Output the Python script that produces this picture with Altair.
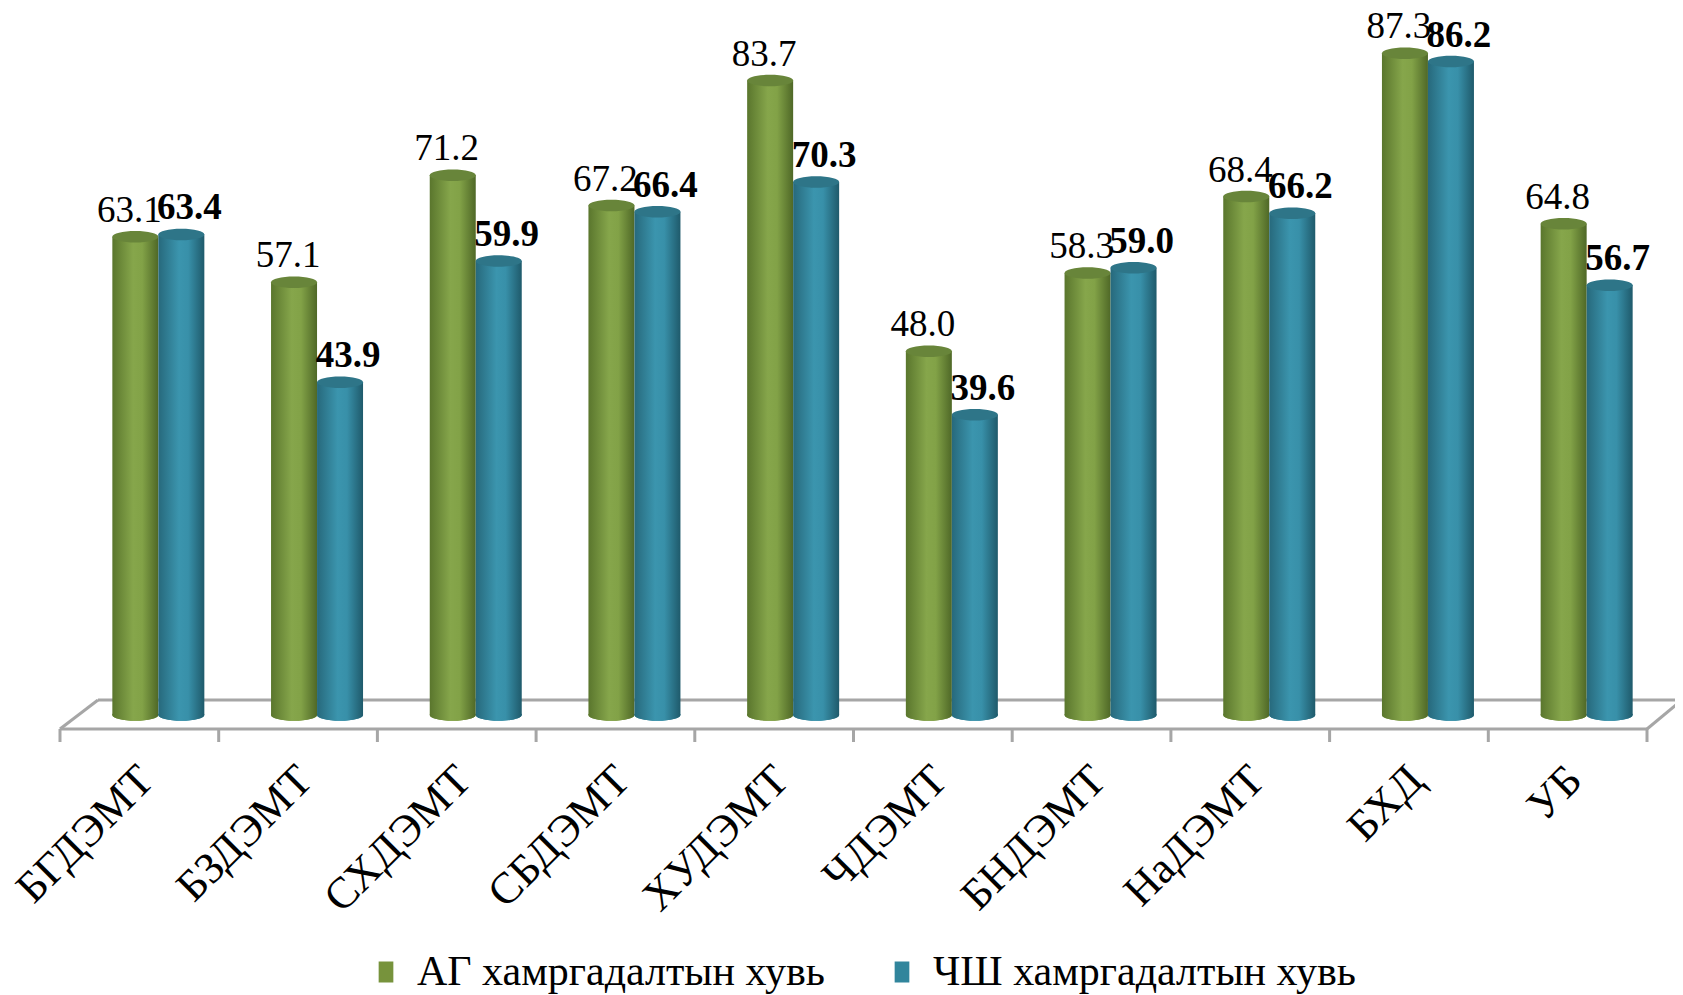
import altair as alt
import pandas as pd

categories = ["БГДЭМТ", "БЗДЭМТ", "СХДЭМТ", "СБДЭМТ", "ХУДЭМТ",
              "ЧДЭМТ", "БНДЭМТ", "НаДЭМТ", "БХД", "УБ"]
ag_values = [63.1, 57.1, 71.2, 67.2, 83.7, 48.0, 58.3, 68.4, 87.3, 64.8]
chsh_values = [63.4, 43.9, 59.9, 66.4, 70.3, 39.6, 59.0, 66.2, 86.2, 56.7]
series_names = ["АГ хамргадалтын хувь", "ЧШ хамргадалтын хувь"]
series_colors = ["#77933C", "#31859C"]

rows = []
for c, a, b in zip(categories, ag_values, chsh_values):
    rows.append({"cat": c, "series": series_names[0], "value": a, "label": f"{a:.1f}"})
    rows.append({"cat": c, "series": series_names[1], "value": b, "label": f"{b:.1f}"})
df = pd.DataFrame(rows)

FONT = "Liberation Serif"
W, H = 1667, 707
BAR_W = 46
STEP = 158.7
ELL = "M-1,0C-1,-0.138,-0.552,-0.25,0,-0.25C0.552,-0.25,1,-0.138,1,0C1,0.138,0.552,0.25,0,0.25C-0.552,0.25,-1,0.138,-1,0Z"

xs = alt.Scale(domain=categories, paddingInner=0, paddingOuter=0.252, align=0.65)
ys = alt.Scale(domain=[0, 93.27], nice=False, zero=True)
X = alt.X("cat:N", scale=xs, axis=None)
Y = alt.Y("value:Q", scale=ys, axis=None)
Y0 = alt.Y("zero:Q", scale=ys, axis=None)
COLOR = alt.Color("series:N",
                  scale=alt.Scale(domain=series_names, range=series_colors),
                  legend=alt.Legend(
                      orient="none", legendX=357, legendY=943, direction="horizontal",
                      title=None, symbolType="M-0.7,-1H0.7V1H-0.7Z", symbolSize=441,
                      symbolStrokeWidth=0, padding=0,
                      labelFont=FONT, labelFontSize=42, labelColor="black",
                      labelOffset=10, columnPadding=56, labelLimit=800))


def grad(c0, c1, c2, c3):
    return {"gradient": "linear", "x1": 0, "x2": 1, "y1": 0, "y2": 0,
            "stops": [{"offset": 0, "color": c0},
                      {"offset": 0.45, "color": c1},
                      {"offset": 0.65, "color": c2},
                      {"offset": 1, "color": c3}]}


styles = [
    (series_names[0], grad("#5a762d", "#86a64b", "#82a247", "#4f6827"), "#68853a", -4, -10, "normal"),
    (series_names[1], grad("#27697c", "#3b95ae", "#3890a9", "#1f5a6b"), "#2e7588", 42, 50, "bold"),
]

base = alt.Chart(df).transform_calculate(zero="0")
GRAY = "#a6a6a6"
first = base.transform_filter(f"datum.series == '{series_names[0]}'")

floor = [
    first.transform_filter(f"datum.cat == '{categories[0]}'").mark_rule(
        color=GRAY, strokeWidth=3).encode(
        x=alt.value(x1), x2=alt.value(x2), y=alt.value(y1), y2=alt.value(y2))
    for (x1, y1, x2, y2) in [(52, 721, 1639, 721), (90, 692, 1674, 692),
                             (52, 721, 90, 692), (1639, 721, 1674, 692)]
]

ticks = first.mark_rule(color=GRAY, strokeWidth=3, xOffset=-STEP / 2).encode(
    x=X, y=alt.value(721), y2=alt.value(734))
last_tick = first.transform_filter(f"datum.cat == '{categories[-1]}'").mark_rule(
    color=GRAY, strokeWidth=3, xOffset=STEP / 2).encode(
    x=X, y=alt.value(721), y2=alt.value(734))

xlabels = first.mark_text(
    angle=315, align="right", baseline="top", font=FONT, fontSize=44, color="black",
    xOffset=-8).encode(x=X, y=alt.value(750), text="cat:N")

layers = floor + [ticks, last_tick, xlabels]

for name, g, topc, off, ldx, weight in styles:
    d = base.transform_filter(f"datum.series == '{name}'")
    layers.append(d.mark_point(shape=ELL, size=BAR_W ** 2, filled=True, opacity=1,
                               strokeWidth=0, xOffset=off).encode(
        x=X, y=Y0, color=COLOR))
    layers.append(d.mark_point(shape=ELL, size=BAR_W ** 2, filled=True, fill=g, opacity=1,
                               strokeWidth=0, xOffset=off).encode(x=X, y=Y0))
    layers.append(d.mark_bar(size=BAR_W, xOffset=off, fill=g).encode(x=X, y=Y))
    layers.append(d.mark_point(shape=ELL, size=BAR_W ** 2, filled=True, color=topc, opacity=1,
                               strokeWidth=0, xOffset=off).encode(x=X, y=Y))
    layers.append(d.mark_text(font=FONT, fontSize=37, fontWeight=weight, color="black",
                              baseline="alphabetic", dx=ldx, dy=-15).encode(
        x=X, y=Y, text="label:N"))

chart = alt.layer(*layers).properties(
    width=W, height=H,
    autosize=alt.AutoSizeParams(type="none"),
    padding={"left": 0, "top": 0, "right": 0, "bottom": 280},
    background="white",
).configure_view(stroke=None)

chart.save("out.html", embed_options={"renderer": "svg", "actions": False})
